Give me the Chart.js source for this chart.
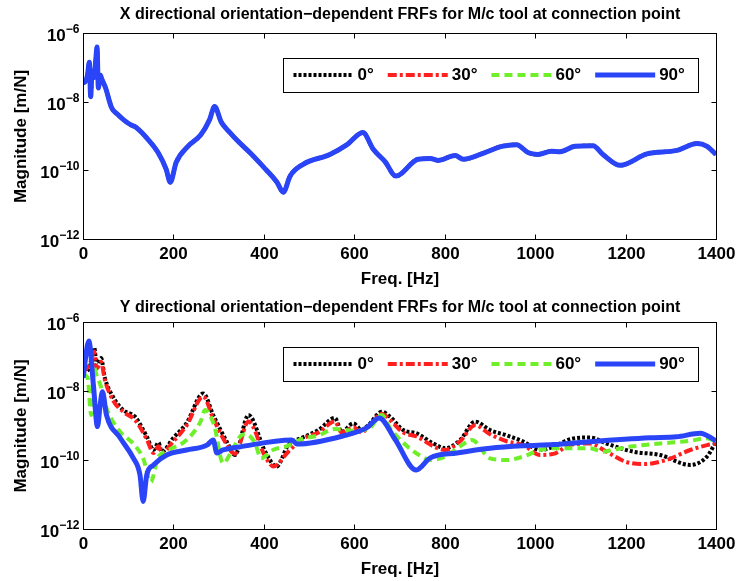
<!DOCTYPE html>
<html>
<head>
<meta charset="utf-8">
<script src="https://cdn.jsdelivr.net/npm/chart.js@4.4.0/dist/chart.umd.min.js"></script>
<style>
  body { margin: 0; background: #fff; }
  canvas { display: block; }
</style>
</head>
<body>
<canvas id="chart-x" width="737" height="290"></canvas>
<canvas id="chart-y" width="737" height="291"></canvas>
<script>
// Orientation-dependent FRFs

const seriesLabels = ['0°', '30°', '60°', '90°'];
const plotTitles = [
    'X directional orientation\u2212dependent FRFs for M/c tool at connection point',
    'Y directional orientation\u2212dependent FRFs for M/c tool at connection point'
];
const xTicks = [0, 200, 400, 600, 800, 1000, 1200, 1400];
const yTicks = [1e-12, 1e-10, 1e-8, 1e-6];

// X direction: all four orientations give the same curve
const xFreq = [0, 6, 10, 14, 17, 20, 24, 28, 31, 34, 38, 42, 50, 63, 77, 92, 106, 117, 144, 166,
    184, 193, 206, 232, 261, 280, 291, 306, 325, 343, 369, 398, 429, 443, 458, 487, 546, 584, 619, 642,
    668, 692, 741, 768, 785, 823, 841, 889, 926, 959, 984, 1006, 1036, 1055, 1088, 1128, 1150, 1188, 1247, 1313,
    1358, 1380, 1400];
const xMag = [3.5e-8, 4e-8, 6e-8, 1.4e-7, 1.4e-8, 8e-8, 5e-8, 1.5e-7, 3.9e-7, 2.5e-8,
    6e-8, 4.4e-8, 2.5e-8, 6.8e-9, 4.2e-9, 2.8e-9, 2.1e-9, 1.8e-9, 7.9e-10, 3.3e-10,
    1.07e-10, 4.5e-11, 1.7e-10, 5e-10, 1.1e-9, 3e-9, 7.2e-9, 2.5e-9, 1.26e-9, 7e-10,
    3.3e-10, 1.3e-10, 4.5e-11, 2.3e-11, 6.8e-11, 1.5e-10, 2.9e-10, 5.6e-10, 1.26e-9, 4.1e-10,
    1.8e-10, 6.8e-11, 2.1e-10, 2.2e-10, 1.95e-10, 2.7e-10, 2.1e-10, 3.3e-10, 5e-10, 5.6e-10,
    3.3e-10, 2.9e-10, 3.6e-10, 3.5e-10, 5e-10, 5.2e-10, 2.9e-10, 1.4e-10, 3e-10, 3.8e-10,
    6e-10, 5e-10, 2.9e-10];

// Y direction, one curve per orientation
const y0Freq = [0, 15, 25, 30, 40, 48, 66, 89, 115, 141, 156, 167, 174, 200, 229, 266, 288, 318, 336, 366,
    403, 428, 454, 484, 521, 557, 572, 598, 616, 631, 661, 679, 708, 738, 775, 801, 834, 867, 900, 937,
    974, 1011, 1040, 1077, 1121, 1158, 1217, 1276, 1343, 1380, 1400];
const y0Mag = [3.3e-8, 5e-8, 1.8e-7, 5.6e-8, 9e-8, 2.5e-8, 6.9e-9, 2.8e-9, 1.8e-9, 4.8e-10,
    1.95e-10, 3.2e-10, 1.74e-10, 4.4e-10, 1.17e-9, 8.5e-9, 2e-9, 3.4e-10, 1.4e-10, 2e-9,
    1.74e-10, 6.5e-11, 2.7e-10, 4.4e-10, 7.4e-10, 1.66e-9, 6.6e-10, 1.15e-9, 7.4e-10, 1.02e-9,
    2.5e-9, 1.8e-9, 7.4e-10, 5.9e-10, 3e-10, 2.2e-10, 3.8e-10, 1.3e-9, 7.4e-10, 5.2e-10,
    3.4e-10, 1.95e-10, 2.4e-10, 4e-10, 4.5e-10, 3e-10, 1.74e-10, 1.4e-10, 7.2e-11, 1.26e-10,
    3.4e-10];

const y30Freq = [0, 15, 25, 30, 40, 48, 66, 89, 115, 141, 156, 167, 174, 200, 229, 266, 288, 318, 336, 366,
    403, 421, 454, 484, 521, 557, 572, 598, 616, 631, 661, 679, 708, 738, 775, 801, 834, 867, 900, 937,
    974, 1011, 1040, 1077, 1121, 1158, 1200, 1240, 1290, 1343, 1380, 1400];
const y30Mag = [3.6e-8, 6e-8, 1.4e-7, 4.5e-8, 7e-8, 2.2e-8, 5.5e-9, 2.5e-9, 1.45e-9, 4e-10,
    1.6e-10, 2.5e-10, 1.6e-10, 3.5e-10, 1e-9, 6.9e-9, 1.6e-9, 2.8e-10, 1.5e-10, 1.3e-9,
    1.26e-10, 6.5e-11, 1.74e-10, 4e-10, 6.3e-10, 1.3e-9, 6.3e-10, 8.9e-10, 6.3e-10, 8.9e-10,
    2.2e-9, 1.45e-9, 6.3e-10, 4.8e-10, 2.5e-10, 1.95e-10, 3.5e-10, 1.02e-9, 5.6e-10, 3.5e-10,
    2.7e-10, 1.4e-10, 1.5e-10, 2.7e-10, 3e-10, 1.74e-10, 8.9e-11, 7.6e-11, 1e-10, 1.95e-10,
    2.7e-10, 3e-10];

const y60Freq = [0, 10, 18, 25, 30, 40, 52, 82, 111, 133, 150, 165, 185, 229, 260, 270, 290, 310, 330, 350,
    360, 380, 394, 420, 450, 484, 521, 557, 598, 631, 661, 679, 708, 738, 770, 801, 834, 860, 900, 937,
    974, 1011, 1044, 1077, 1121, 1150, 1170, 1217, 1276, 1343, 1380, 1400];
const y60Mag = [2.9e-8, 2.5e-8, 2e-9, 4.6e-8, 2.9e-8, 1.3e-8, 3.2e-9, 6.6e-10, 3e-10, 1.12e-10,
    2.3e-11, 1.12e-10, 1.8e-10, 3.8e-10, 1.3e-9, 2.8e-9, 1.02e-9, 8e-11, 1.95e-10, 5.2e-10,
    5.6e-10, 3.2e-10, 1.12e-10, 1.95e-10, 2.5e-10, 4e-10, 5.2e-10, 7.9e-10, 7.1e-10, 7.9e-10,
    2e-9, 8.5e-10, 3.2e-10, 1.55e-10, 1e-10, 1.26e-10, 2.5e-10, 3.8e-10, 1.12e-10, 1e-10,
    1.26e-10, 1.95e-10, 2.2e-10, 2.2e-10, 2.2e-10, 1.74e-10, 1.95e-10, 2.5e-10, 3e-10, 3.6e-10,
    4.3e-10, 3.4e-10];

const y90Freq = [0, 13, 23, 32, 38, 43, 52, 82, 111, 126, 133, 141, 156, 185, 229, 274, 288, 296, 310, 347,
    462, 473, 580, 627, 655, 690, 737, 768, 827, 900, 974, 1040, 1121, 1254, 1313, 1365, 1400];
const y90Mag = [2.4e-8, 2.8e-7, 1.5e-8, 9.3e-10, 4e-9, 9.5e-9, 2e-9, 4.4e-10, 1.15e-10, 3.7e-11,
    6.3e-12, 3.7e-11, 7.2e-11, 1.4e-10, 1.95e-10, 2.7e-10, 3.8e-10, 1.6e-10, 1.95e-10, 2.4e-10,
    3.8e-10, 2.9e-10, 5.2e-10, 8.5e-10, 1.66e-9, 4e-10, 5.1e-11, 1.15e-10, 1.6e-10, 2.2e-10,
    2.6e-10, 2.8e-10, 3.4e-10, 4.4e-10, 4.7e-10, 6e-10, 3.6e-10];

const FONT = 'Arial, "Liberation Sans", Helvetica, sans-serif';

// line look of each orientation (matlab style)
const lineStyles = [
    { color: '#000000', width: 4, dash: [3, 2] },
    { color: '#ff1f1f', width: 4, dash: [9, 3, 3, 3] },
    { color: '#6fef2a', width: 4, dash: [8, 5] },
    { color: '#2a45f7', width: 5, dash: [] }
];

function toPoints(freq, mag) {
    return freq.map((f, i) => ({ x: f, y: mag[i] }));
}

function makeDatasets(curves) {
    return curves.map((c, i) => ({
        label: seriesLabels[i],
        data: toPoints(c[0], c[1]),
        borderColor: lineStyles[i].color,
        borderWidth: lineStyles[i].width,
        borderDash: lineStyles[i].dash,
        borderCapStyle: 'butt',
        pointRadius: 0,
        fill: false,
        cubicInterpolationMode: 'monotone',
        order: 3 - i   // later orientations drawn on top
    }));
}

// frame, inward ticks, tick labels, titles and legend, matlab style
const matlabFrame = {
    id: 'matlabFrame',
    afterDraw(chart, args, opts) {
        const { ctx, chartArea: a } = chart;
        const xs = chart.scales.x, ys = chart.scales.y;
        ctx.save();
        ctx.strokeStyle = '#000';
        ctx.fillStyle = '#000';
        ctx.lineWidth = 1;
        ctx.setLineDash([]);
        const L = Math.round(a.left) + 0.5, R = Math.round(a.right) + 0.5;
        const T = Math.round(a.top) + 0.5, B = Math.round(a.bottom) + 0.5;
        ctx.strokeRect(L, T, R - L, B - T);

        // x ticks
        ctx.font = 'bold 17px ' + FONT;
        ctx.textAlign = 'center';
        ctx.textBaseline = 'alphabetic';
        xTicks.forEach(v => {
            const px = Math.round(xs.getPixelForValue(v)) + 0.5;
            ctx.beginPath();
            ctx.moveTo(px, B); ctx.lineTo(px, B - 5);
            ctx.moveTo(px, T); ctx.lineTo(px, T + 5);
            ctx.stroke();
            ctx.fillText(String(v), px, B + 19);
        });

        // y ticks with 10^n labels
        yTicks.forEach(v => {
            const py = Math.round(ys.getPixelForValue(v)) + 0.5;
            ctx.beginPath();
            ctx.moveTo(L, py); ctx.lineTo(L + 5, py);
            ctx.moveTo(R, py); ctx.lineTo(R - 5, py);
            ctx.stroke();
            const exp = '\u2212' + Math.abs(Math.round(Math.log10(v)));
            ctx.textAlign = 'right';
            ctx.font = 'bold 12px ' + FONT;
            const supW = ctx.measureText(exp).width;
            ctx.fillText(exp, L - 4, py - 1);
            ctx.font = 'bold 17px ' + FONT;
            ctx.fillText('10', L - 4 - supW, py + 7);
        });

        // axis titles
        ctx.font = 'bold 17px ' + FONT;
        ctx.textAlign = 'center';
        ctx.fillText('Freq. [Hz]', (L + R) / 2, B + 44);
        ctx.save();
        ctx.translate(21, (T + B) / 2);
        ctx.rotate(-Math.PI / 2);
        ctx.textBaseline = 'middle';
        ctx.fillText('Magnitude [m/N]', 0, 0);
        ctx.restore();

        // plot title
        ctx.font = 'bold 16px ' + FONT;
        ctx.fillText(opts.title, (L + R) / 2, opts.titleY);

        // legend box
        const bx = L + 200, by = T + 25, bw = 415, bh = 34;
        ctx.fillStyle = '#fff';
        ctx.fillRect(bx, by, bw, bh);
        ctx.strokeRect(bx, by, bw, bh);
        ctx.font = 'bold 17px ' + FONT;
        ctx.textAlign = 'left';
        ctx.textBaseline = 'middle';
        const cy = by + bh / 2;
        let lx = bx + 10;
        chart.data.datasets.forEach(ds => {
            ctx.strokeStyle = ds.borderColor;
            ctx.lineWidth = ds.borderWidth;
            ctx.setLineDash(ds.borderDash);
            ctx.lineCap = 'butt';
            ctx.beginPath();
            ctx.moveTo(lx, Math.round(cy) - 1);
            ctx.lineTo(lx + 60, Math.round(cy) - 1);
            ctx.stroke();
            ctx.setLineDash([]);
            ctx.fillStyle = '#000';
            ctx.fillText(ds.label, lx + 64, cy);
            lx += 64 + ctx.measureText(ds.label).width + 14;
        });
        ctx.restore();
    }
};

function buildChart(canvasId, datasets, title, pad, titleY) {
    const ctx = document.getElementById(canvasId).getContext('2d');
    return new Chart(ctx, {
        type: 'line',
        data: { datasets: datasets },
        plugins: [matlabFrame],
        options: {
            responsive: false,
            animation: false,
            events: [],
            layout: { padding: pad },
            scales: {
                x: { type: 'linear', min: 0, max: 1400, display: false },
                y: { type: 'logarithmic', min: 1e-12, max: 1e-6, display: false }
            },
            plugins: {
                legend: { display: false },
                tooltip: { enabled: false },
                matlabFrame: { title: title, titleY: titleY }
            }
        }
    });
}

buildChart('chart-x',
    makeDatasets([[xFreq, xMag], [xFreq, xMag], [xFreq, xMag], [xFreq, xMag]]),
    plotTitles[0], { left: 83, right: 21, top: 33, bottom: 51 }, 19);

buildChart('chart-y',
    makeDatasets([[y0Freq, y0Mag], [y30Freq, y30Mag], [y60Freq, y60Mag], [y90Freq, y90Mag]]),
    plotTitles[1], { left: 83, right: 21, top: 32, bottom: 52 }, 22);
</script>
</body>
</html>
